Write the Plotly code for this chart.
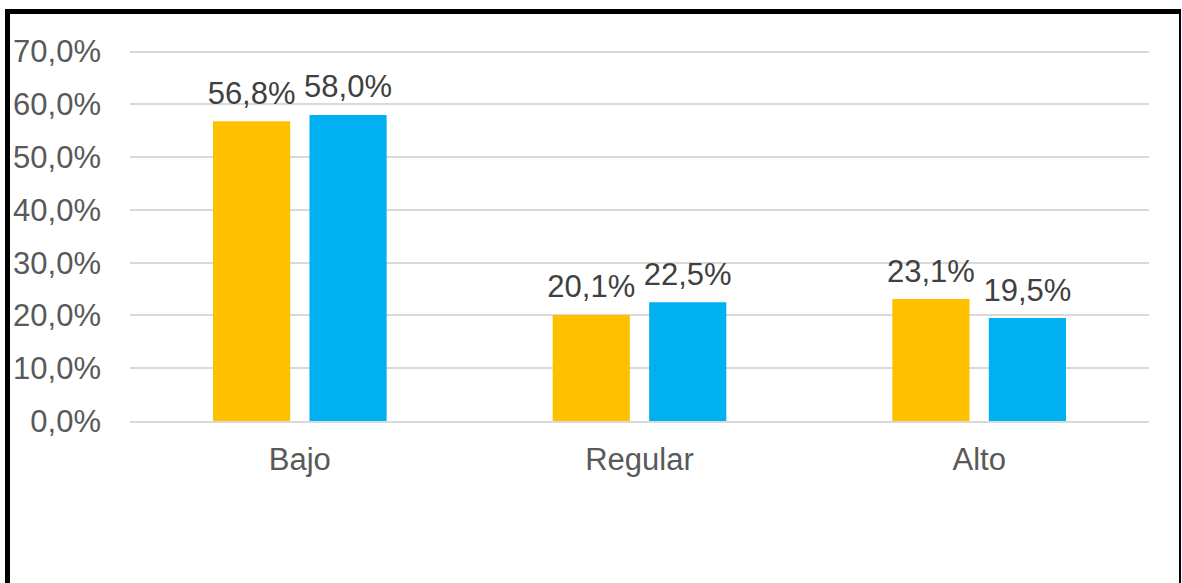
import plotly.graph_objects as go

categories = ["Bajo", "Regular", "Alto"]
serie_1 = [56.8, 20.1, 23.1]
serie_2 = [58.0, 22.5, 19.5]
y_ticks = [0, 10, 20, 30, 40, 50, 60, 70]
y_tick_labels = ["0,0%", "10,0%", "20,0%", "30,0%", "40,0%", "50,0%", "60,0%", "70,0%"]

def fmt(v):
    return f"{v:.1f}".replace(".", ",") + "%"

FONT = "Liberation Sans, Arial, sans-serif"
W, H = 1182, 583
L, R, T, B = 130, 33, 49, 162
BARGAP = 0.432

fig = go.Figure()
series = [(serie_1, "#FFC000", "s1"), (serie_2, "#00B0F0", "s2")]
for vals, col, grp in series:
    fig.add_trace(go.Bar(
        x=categories, y=vals, marker_color=col, marker_line_width=0,
        offsetgroup=grp, name=grp, cliponaxis=False))
for vals, col, grp in series:
    fig.add_trace(go.Scatter(
        x=categories, y=vals, mode="markers+text", offsetgroup=grp,
        marker=dict(size=14, opacity=0),
        text=[fmt(v) for v in vals], textposition="top center",
        textfont=dict(family=FONT, size=31, color="#404040"),
        cliponaxis=False, hoverinfo="skip", name=grp + " labels"))

pw = W - L - R
ph = H - T - B
def px_x(p):
    return (p - L) / pw
def px_y(p):
    return 1 - (p - T) / ph

shapes = [
    dict(type="line", xref="paper", yref="paper", x0=px_x(5), x1=px_x(1181), y0=px_y(11.5), y1=px_y(11.5),
         line=dict(color="black", width=5)),
    dict(type="line", xref="paper", yref="paper", x0=px_x(7.5), x1=px_x(7.5), y0=px_y(9), y1=px_y(590),
         line=dict(color="black", width=5)),
    dict(type="line", xref="paper", yref="paper", x0=px_x(1180), x1=px_x(1180), y0=px_y(9), y1=px_y(590),
         line=dict(color="black", width=2)),
]

fig.update_layout(
    width=W, height=H,
    margin=dict(l=L, r=R, t=T, b=B, autoexpand=False),
    paper_bgcolor="white", plot_bgcolor="white",
    barmode="group", bargap=BARGAP, bargroupgap=0.2,
    scattermode="group", scattergap=BARGAP,
    showlegend=False,
    font=dict(family=FONT, size=31, color="#595959"),
    shapes=shapes,
    xaxis=dict(showgrid=False, showline=True, linecolor="#D9D9D9", linewidth=2,
               ticks="", tickfont=dict(family=FONT, size=31, color="#595959"),
               ticklabelstandoff=10),
    yaxis=dict(range=[0, 70.5], tickvals=y_ticks, ticktext=y_tick_labels,
               showgrid=True, gridcolor="#D9D9D9", gridwidth=2,
               zeroline=False, showline=False, ticks="",
               tickfont=dict(family=FONT, size=31, color="#595959"),
               ticklabelstandoff=28),
)

fig.write_html("out.html", config={"displayModeBar": False},
               post_script="document.body.style.margin='0';document.body.style.overflow='hidden';")
